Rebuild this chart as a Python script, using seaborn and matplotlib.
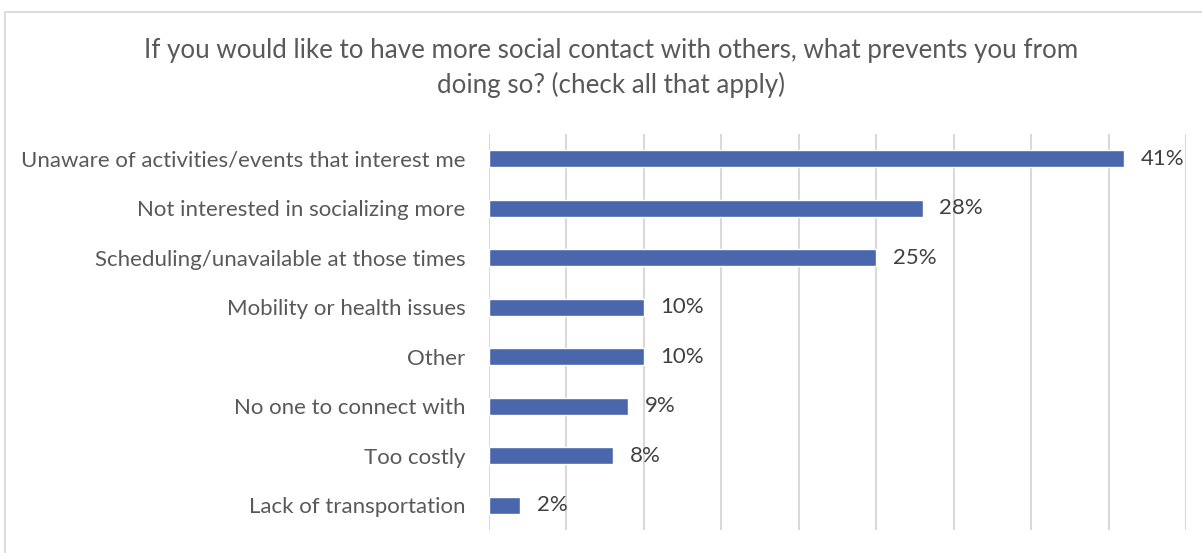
# barriers to social contact - survey question, horizontal bars

import matplotlib.pyplot as plt
import seaborn as sns
from matplotlib.patches import Rectangle

reasons = [
    "Unaware of activities/events that interest me",
    "Not interested in socializing more",
    "Scheduling/unavailable at those times",
    "Mobility or health issues",
    "Other",
    "No one to connect with",
    "Too costly",
    "Lack of transportation",
]
pct = [41, 28, 25, 10, 10, 9, 8, 2]
title = ("If you would like to have more social contact with others, what prevents you from\n"
         "doing so? (check all that apply)")


def main():
    sns.set_style("white")
    plt.rcParams["font.family"] = ["Lato", "DejaVu Sans"]

    fig = plt.figure(figsize=(12.02, 5.53), dpi=100)
    ax = fig.add_axes([489 / 1202, 1 - 530 / 553, (1186 - 489) / 1202, (530 - 134) / 553])

    sns.barplot(x=pct, y=reasons, orient="h", color="#4a66ac", width=0.35,
                saturation=1, ax=ax)

    ax.set_xlim(0, 45)
    ax.set_xticks(range(0, 46, 5))
    ax.set_xticklabels([])
    ax.grid(axis="x", color="#d9d9d9", linewidth=1.5)
    ax.set_axisbelow(True)
    sns.despine(ax=ax, left=True, bottom=True)
    ax.tick_params(axis="both", length=0)
    ax.tick_params(axis="y", pad=17, labelsize=16, labelcolor="#595959")

    ax.bar_label(ax.containers[0], labels=[f"{v}%" for v in pct], padding=12,
                 fontsize=16, color="#404040")

    fig.text(611 / 1202, 1 - 68 / 553, title, ha="center", va="center",
             fontsize=18.7, color="#595959", linespacing=1.4)

    # light chart border like the excel export
    fig.add_artist(Rectangle((5 / 1202, -0.1), 1.2, 1 - 12 / 553 + 0.1,
                             transform=fig.transFigure, fill=False,
                             edgecolor="#d9d9d9", linewidth=1.3))

    fig.savefig("out.png", dpi=100)
    plt.close(fig)


if __name__ == "__main__":
    main()
